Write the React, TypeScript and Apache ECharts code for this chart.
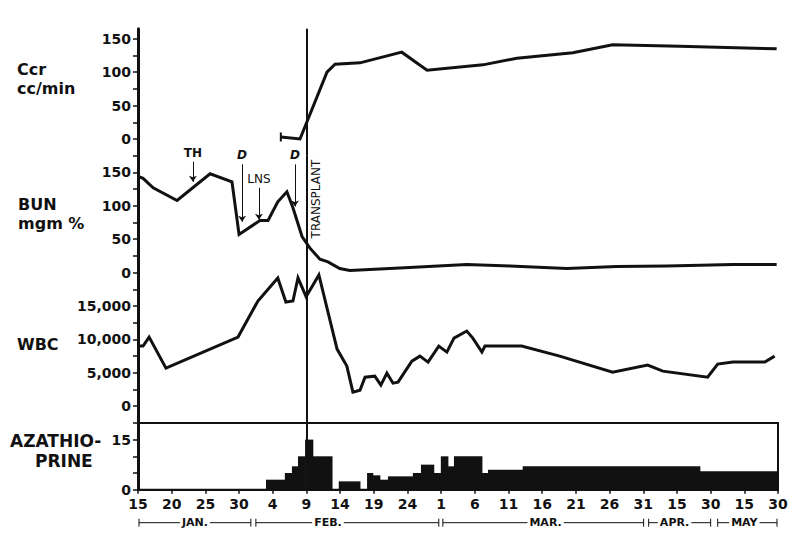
import React, { useEffect, useRef } from 'react';
import * as echarts from 'echarts';

// ---------- data (x = position in tick steps along the date axis) ----------
const xTickLabels = ['15', '20', '25', '30', '4', '9', '14', '19', '24', '1', '6', '11', '16', '21', '26', '31', '15', '30', '15', '30'];
const transplantX = 5;

const ccrX = [4.24, 4.81, 5.61, 5.85, 6.59, 7.83, 8.58, 10.24, 11.25, 12.91, 14.09, 16.08, 18.96];
const ccrY = [3, 0, 100, 112, 114, 130, 103, 111, 121, 129, 141, 139, 135];

const bunX = [0, 0.15, 0.45, 1.16, 2.14, 2.79, 3.0, 3.62, 3.86, 4.15, 4.42, 4.6, 4.87, 5.1, 5.4, 5.64, 5.99, 6.29, 7.77, 9.76, 11.04, 12.73, 14.21, 15.7, 17.66, 18.96];
const bunY = [144, 141, 127, 108, 148, 136, 57, 78, 78, 106, 121, 97, 54, 37, 20, 16, 6, 3, 7, 12, 10, 6, 9, 10, 12, 12];

const wbcX = [0, 0.15, 0.33, 0.83, 2.97, 3.56, 4.15, 4.39, 4.6, 4.75, 4.99, 5.37, 5.91, 6.2, 6.38, 6.59, 6.74, 7.03, 7.21, 7.39, 7.57, 7.72, 8.13, 8.37, 8.61, 8.93, 9.17, 9.38, 9.76, 9.94, 10.21, 10.3, 11.39, 12.52, 14.09, 15.13, 15.58, 16.91, 17.21, 17.66, 18.61, 18.9];
const wbcY = [9000, 9000, 10350, 5700, 10350, 15750, 19200, 15600, 15750, 19200, 16400, 19650, 8550, 6000, 2100, 2400, 4350, 4500, 3150, 4950, 3450, 3600, 6750, 7500, 6600, 9000, 8100, 10200, 11250, 10200, 8100, 9000, 9000, 7500, 5100, 6150, 5250, 4350, 6300, 6600, 6600, 7500];

const azaStart = [3.8, 4.36, 4.57, 4.75, 4.96, 5.19, 5.96, 6.8, 6.97, 7.18, 7.42, 8.16, 8.4, 8.78, 8.99, 9.2, 9.38, 10.21, 10.39, 11.42, 16.68];
const azaEnd = [4.36, 4.57, 4.75, 4.96, 5.19, 5.76, 6.59, 6.97, 7.18, 7.42, 8.16, 8.4, 8.78, 8.99, 9.2, 9.38, 10.21, 10.39, 11.42, 16.68, 19];
const azaDose = [3, 5, 7, 10, 15, 10, 2.5, 5, 4.3, 3, 4, 5, 7.5, 5, 10, 7, 10, 5, 6, 7, 5.5];

const monthNames = ['JAN.', 'FEB.', 'MAR.', 'APR.', 'MAY'];
const monthStart = [0, 3.47, 9.02, 15.13, 17.18];
const monthEnd = [3.38, 8.96, 15.04, 17.03, 19];
const monthLabelX = [1.69, 5.64, 12.1, 15.93, 18.0];

const annotLabels = ['TH', 'D', 'LNS', 'D'];
const annotX = [1.63, 3.09, 3.59, 4.66];
const annotTop = [166, 162, 127, 162];
const annotTip = [136, 76, 79, 99];

const ccrLabels = [0, 50, 100, 150];
const ccrTicks = [-25, 0, 25, 50, 75, 100, 125, 150];
const bunLabels = [0, 50, 100, 150];
const bunTicks = [-25, 0, 25, 50, 75, 100, 125, 150];
const wbcLabels = [0, 5000, 10000, 15000];
const wbcTicks = [-2500, 0, 2500, 5000, 7500, 10000, 12500, 15000];
const azaLabels = [0, 15];
const azaTicks = [0, 5, 10, 15];

// ---------- layout ----------
const FONT = 'DejaVu Sans';
const INK = '#111';
const y0 = 139; // pixel of Ccr zero
const step = 33.4; // px per major label step
const k = step / 50;
const gCcr = { top: y0 - 165 * k, height: 190 * k };
const gBun = { top: y0 + 25 * k, height: 200 * k };
const gWbc = { top: gBun.top + gBun.height, height: 200 * k };
const gAza = { top: gWbc.top + gWbc.height, height: 2 * step };

const fmtThousands = (v: number) => String(v).replace(/\B(?=(\d{3})+(?!\d))/g, ',');

function yAxisFor(gridIndex: number, min: number, max: number, labels: number[], ticks: number[], fmt?: (v: number) => string) {
  return {
    type: 'value',
    gridIndex,
    min,
    max,
    splitLine: { show: false },
    axisLine: { show: true, lineStyle: { color: INK, width: 3 } },
    axisTick: { show: true, customValues: ticks, length: 5, lineStyle: { color: INK, width: 1.5 } },
    axisLabel: {
      customValues: labels,
      formatter: fmt ? fmt : (v: number) => String(v),
      fontFamily: FONT,
      fontSize: 14,
      fontWeight: 'bold',
      color: INK,
      margin: 7,
    },
  };
}

function xAxisFor(gridIndex: number, show: boolean) {
  return {
    type: 'value',
    gridIndex,
    min: 0,
    max: 19,
    interval: 1,
    show,
    splitLine: { show: false },
    axisLine: { show: true, onZero: false, lineStyle: { color: INK, width: 2 } },
    axisTick: { show: true, length: 4, lineStyle: { color: INK, width: 1.5 } },
    axisLabel: {
      formatter: (v: number) => xTickLabels[Math.round(v)] ?? '',
      fontFamily: FONT,
      fontSize: 14,
      fontWeight: 'bold',
      color: INK,
      margin: 7,
    },
  };
}

const transplantMark = (label: boolean) => ({
  silent: true,
  symbol: ['none', 'none'],
  lineStyle: { color: INK, width: 2, type: 'solid' },
  label: label
    ? {
        show: true,
        formatter: 'TRANSPLANT',
        position: 'insideEndBottom',
        distance: 4,
        fontFamily: FONT,
        fontSize: 12,
        color: INK,
      }
    : { show: false },
  data: [{ xAxis: transplantX }],
});

const lineSeries = (idx: number, data: any[], mark: any) => ({
  type: 'line',
  xAxisIndex: idx,
  yAxisIndex: idx,
  data,
  symbol: 'none',
  showSymbol: true,
  clip: false,
  lineStyle: { color: INK, width: 3, join: 'miter' },
  itemStyle: { color: INK },
  markLine: mark,
  z: 3,
});

function buildOption() {
  const ccrData = ccrX.map((x, i) =>
    i === 0 ? { value: [x, ccrY[i]], symbol: 'rect', symbolSize: [2, 9] } : [x, ccrY[i]]
  );
  const bunData = bunX.map((x, i) => [x, bunY[i]]);
  const wbcData = wbcX.map((x, i) => [x, wbcY[i]]);
  const azaData = azaStart.map((s, i) => [s, azaEnd[i], azaDose[i]]);
  const monthData = monthStart.map((s, i) => [s, monthEnd[i], monthLabelX[i]]);

  const annotMark = {
    silent: true,
    symbol: ['none', 'arrow'],
    symbolSize: 6,
    lineStyle: { color: INK, width: 1, type: 'solid' },
    label: {
      show: true,
      position: 'start',
      distance: 3,
      formatter: (p: any) => p.name,
      fontFamily: FONT,
      fontSize: 12,
      fontWeight: 'bold',
      color: INK,
    },
    data: annotX.map((x, i) => [
      {
        name: annotLabels[i],
        coord: [x, annotTop[i]],
        label: annotLabels[i] === 'D' ? { fontStyle: 'italic' } : annotLabels[i] === 'LNS' ? { fontWeight: 'normal' } : {},
      },
      { coord: [x, annotTip[i]] },
    ]),
  };

  const titleStyle = { fontFamily: FONT, fontSize: 16, fontWeight: 'bold', fill: INK, lineHeight: 19 };

  return {
    animation: false,
    backgroundColor: '#fff',
    grid: [
      { left: 138, right: 22, top: gCcr.top, height: gCcr.height },
      { left: 138, right: 22, top: gBun.top, height: gBun.height },
      { left: 138, right: 22, top: gWbc.top, height: gWbc.height },
      { left: 138, right: 22, top: gAza.top, height: gAza.height, show: true, borderColor: INK, borderWidth: 2, backgroundColor: 'transparent' },
    ],
    xAxis: [xAxisFor(0, false), xAxisFor(1, false), xAxisFor(2, false), xAxisFor(3, true)],
    yAxis: [
      yAxisFor(0, -25, 165, ccrLabels, ccrTicks),
      yAxisFor(1, -25, 175, bunLabels, bunTicks),
      yAxisFor(2, -2500, 17500, wbcLabels, wbcTicks, fmtThousands),
      yAxisFor(3, 0, 20, azaLabels, azaTicks),
    ],
    graphic: [
      { type: 'text', left: 17, top: 60, style: { ...titleStyle, text: 'Ccr\ncc/min' } },
      { type: 'text', left: 18, top: 195, style: { ...titleStyle, text: 'BUN\nmgm %' } },
      { type: 'text', left: 17, top: 335, style: { ...titleStyle, text: 'WBC' } },
      { type: 'text', left: 10, top: 431, style: { ...titleStyle, fontSize: 17, text: 'AZATHIO-' } },
      { type: 'text', left: 35, top: 451, style: { ...titleStyle, fontSize: 17, text: 'PRINE' } },
    ],
    series: [
      lineSeries(0, ccrData, transplantMark(false)),
      lineSeries(1, bunData, transplantMark(true)),
      { ...lineSeries(1, [], annotMark), lineStyle: { width: 0 } },
      lineSeries(2, wbcData, transplantMark(false)),
      {
        type: 'custom',
        xAxisIndex: 3,
        yAxisIndex: 3,
        data: azaData,
        encode: { x: [0, 1], y: 2 },
        renderItem: (params: any, api: any) => {
          const p0 = api.coord([api.value(0), api.value(2)]);
          const p1 = api.coord([api.value(1), 0]);
          return {
            type: 'rect',
            shape: { x: p0[0], y: p0[1], width: p1[0] - p0[0] + 0.5, height: p1[1] - p0[1] },
            style: { fill: INK },
          };
        },
        markLine: transplantMark(false),
        z: 2,
      },
      {
        type: 'custom',
        xAxisIndex: 3,
        yAxisIndex: 3,
        data: monthData,
        encode: { x: [0, 1] },
        silent: true,
        clip: false,
        renderItem: (params: any, api: any) => {
          const a = api.coord([api.value(0), 0]);
          const b = api.coord([api.value(1), 0]);
          const c = api.coord([api.value(2), 0]);
          const y = a[1] + 33;
          const ls = { stroke: INK, lineWidth: 1 };
          return {
            type: 'group',
            children: [
              { type: 'line', shape: { x1: a[0] + 1, y1: y, x2: b[0] - 1, y2: y }, style: ls },
              { type: 'line', shape: { x1: a[0] + 1, y1: y - 4, x2: a[0] + 1, y2: y + 4 }, style: ls },
              { type: 'line', shape: { x1: b[0] - 1, y1: y - 4, x2: b[0] - 1, y2: y + 4 }, style: ls },
              {
                type: 'text',
                x: c[0],
                y,
                style: {
                  text: monthNames[params.dataIndex],
                  font: `bold 11px "${FONT}"`,
                  fill: INK,
                  align: 'center',
                  verticalAlign: 'middle',
                  backgroundColor: '#fff',
                  padding: [0, 2],
                },
              },
            ],
          };
        },
      },
    ],
  };
}

export default function App() {
  const ref = useRef<HTMLDivElement>(null);
  useEffect(() => {
    const chart = echarts.init(ref.current as HTMLDivElement, null, { renderer: 'svg' });
    chart.setOption(buildOption() as any);
    return () => chart.dispose();
  }, []);
  return <div ref={ref} style={{ position: 'absolute', left: 0, top: 0, width: 800, height: 538 }} />;
}
